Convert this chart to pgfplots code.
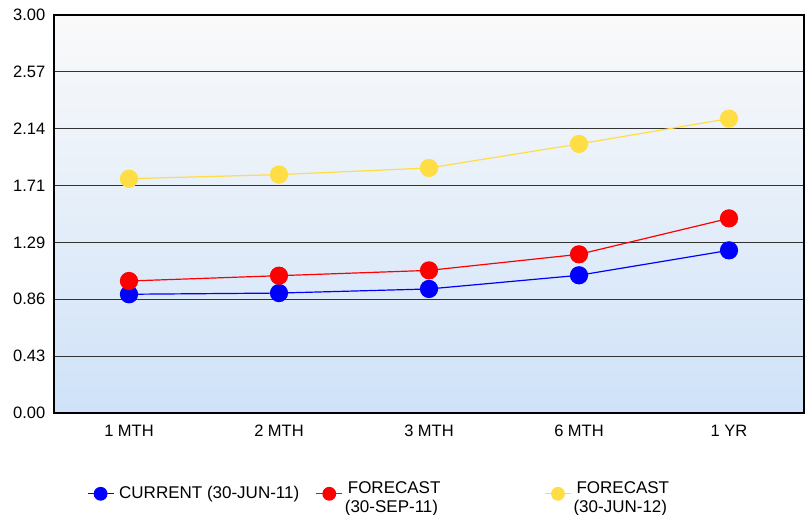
\documentclass[border=0pt]{standalone}
\usepackage{pgfplots}
\pgfplotsset{compat=1.18}
\usepackage{fontspec}
\setmainfont{Liberation Sans}
\definecolor{cblue}{RGB}{0,0,255}
\definecolor{cred}{RGB}{255,0,0}
\definecolor{cyel}{RGB}{255,221,68}
\definecolor{bgtop}{RGB}{250,250,250}
\definecolor{bgbot}{RGB}{207,226,248}
\begin{document}
\fontsize{16.5bp}{19bp}\selectfont
\begin{tikzpicture}
\path[use as bounding box] (-54bp,-102bp) rectangle (755bp,413bp);
\begin{axis}[
  scale only axis, width=750bp, height=398bp,
  xmin=-0.5, xmax=4.5, ymin=0, ymax=3,
  xtick={0,1,2,3,4},
  xticklabels={1 MTH,2 MTH,3 MTH,6 MTH,1 YR},
  ytick={0,0.428571,0.857143,1.285714,1.714286,2.142857,2.571429,3},
  yticklabels={0.00,0.43,0.86,1.29,1.71,2.14,2.57,3.00},
  ymajorgrids,
  grid style={black!80, line width=1bp},
  major tick length=0pt,
  axis line style={black, line width=1.5bp},
  axis background/.style={shade, top color=bgtop, bottom color=bgbot},
  tick label style={font=\fontsize{16.5bp}{19bp}\selectfont},
  xticklabel shift=6bp,
  yticklabel shift=3bp,
  legend columns=3,
  legend style={at={(axis description cs:0.044,-0.203)}, anchor=west,
    draw=none, fill=none, inner sep=0pt, outer sep=0pt,
    font=\fontsize{17bp}{18.5bp}\selectfont,
    /tikz/every even column/.append style={column sep=7.5bp}},
  legend image code/.code={
    \draw[#1, mark=none] (0bp,0bp) -- (26bp,0bp);
    \draw[#1, only marks, mark size=6.3bp] plot coordinates {(13bp,0bp)};
  },
]
\addplot[color=cblue, line width=1.2bp, mark=*, mark size=8.5bp, mark options={solid, fill=cblue, draw=cblue}]
  coordinates {(0,0.895) (1,0.904) (2,0.935) (3,1.038) (4,1.226)};
\addlegendentry{\parbox[c]{190bp}{\hskip3bp CURRENT (30-JUN-11)}}
\addplot[color=cred, line width=1.2bp, mark=*, mark size=8.5bp, mark options={solid, fill=cred, draw=cred}]
  coordinates {(0,0.995) (1,1.035) (2,1.075) (3,1.196) (4,1.467)};
\addlegendentry{\parbox[c]{190bp}{\hskip3bp FORECAST\\\hskip3bp (30-SEP-11)}}
\addplot[color=cyel, line width=1.2bp, mark=*, mark size=8.5bp, mark options={solid, fill=cyel, draw=cyel}]
  coordinates {(0,1.766) (1,1.797) (2,1.847) (3,2.028) (4,2.219)};
\addlegendentry{\parbox[c]{190bp}{\hskip3bp FORECAST\\\hskip3bp (30-JUN-12)}}
\end{axis}
\end{tikzpicture}
\end{document}
